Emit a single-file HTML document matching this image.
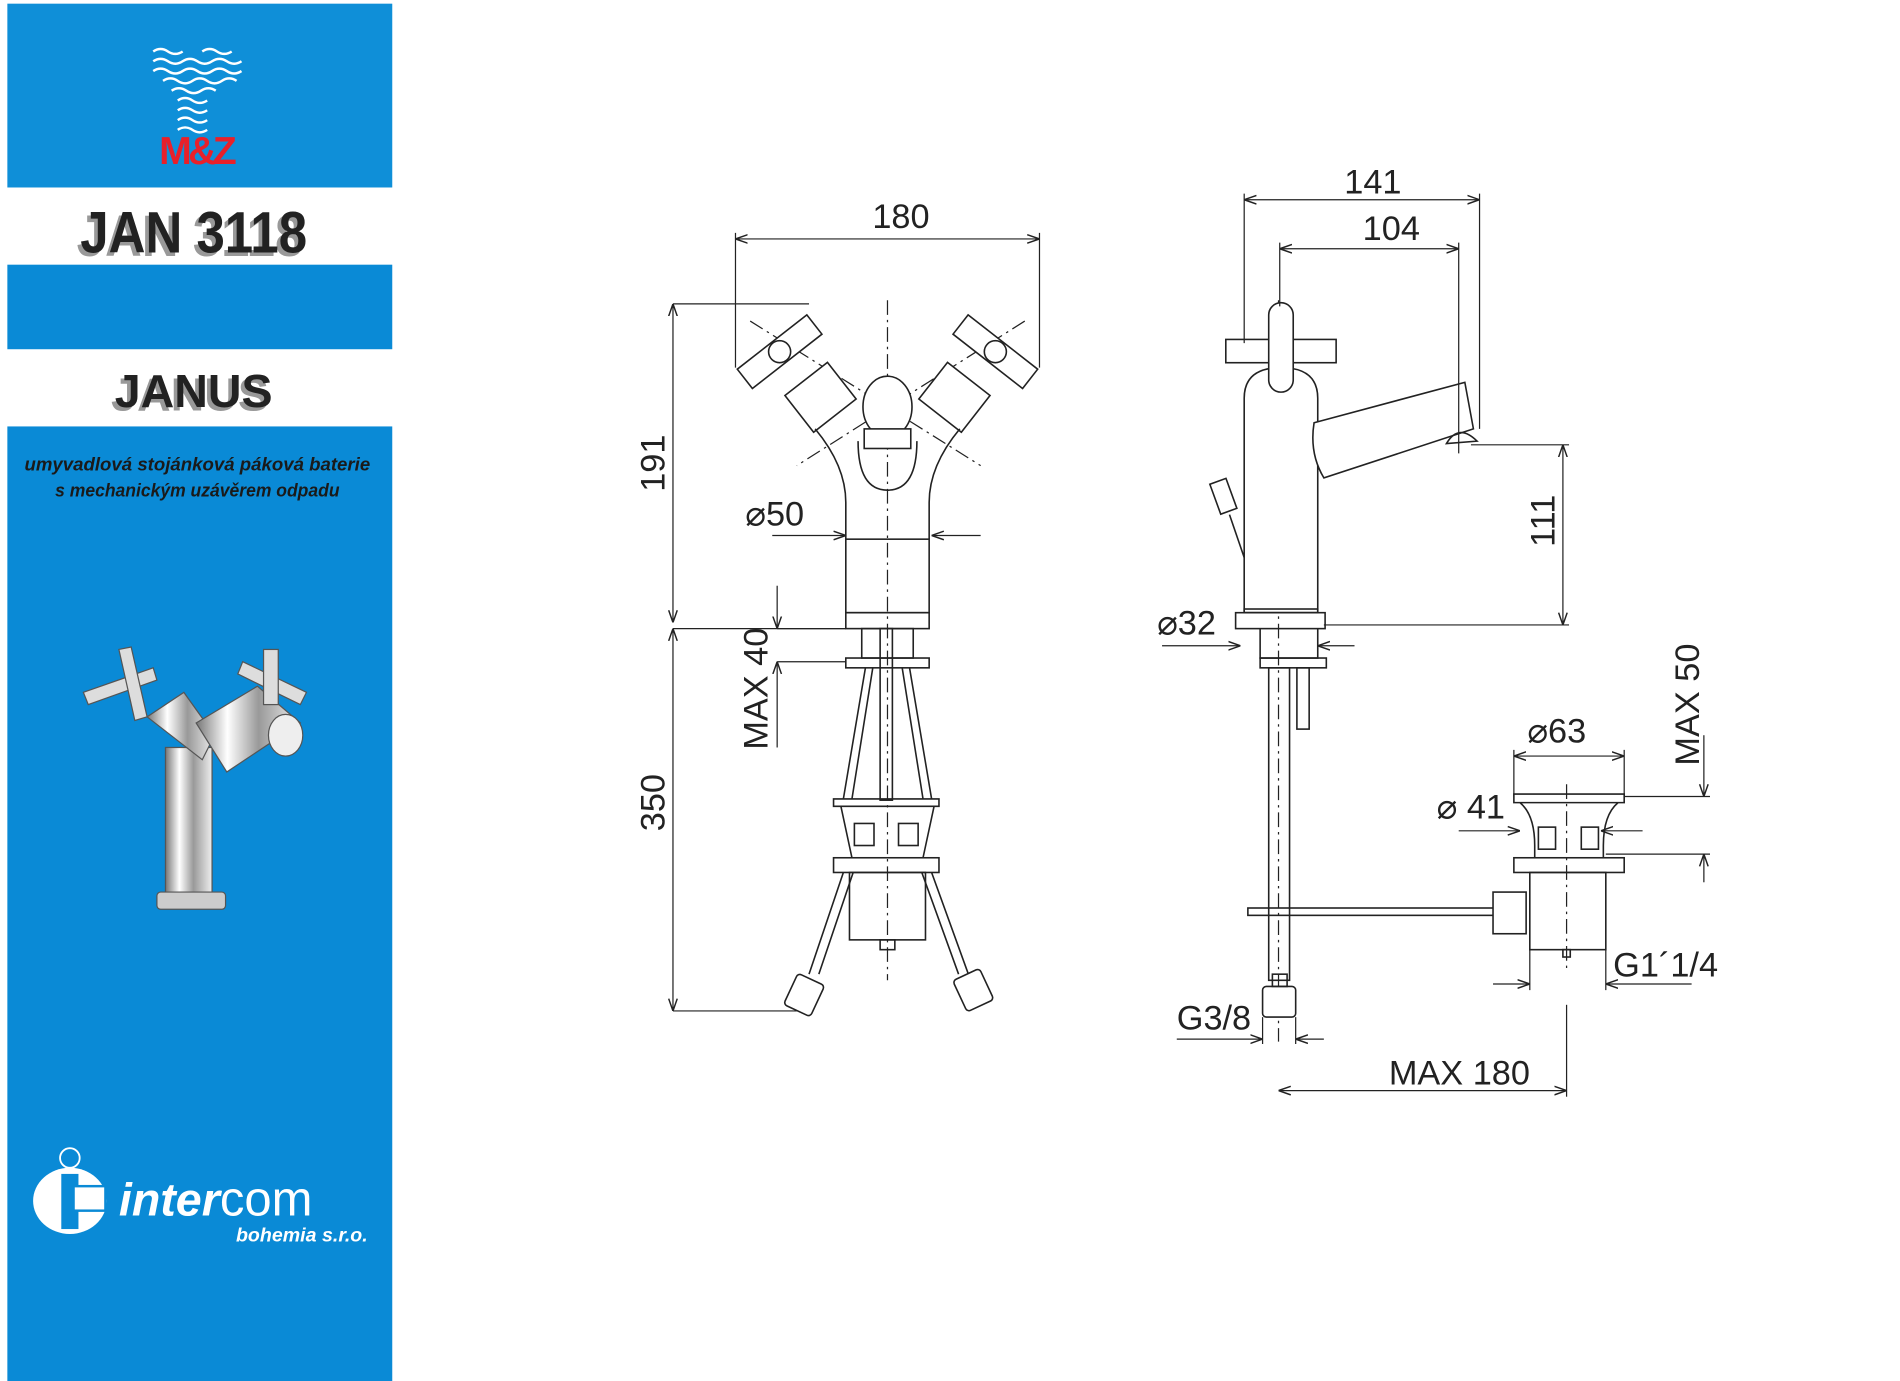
<!DOCTYPE html>
<html><head><meta charset="utf-8"><style>
html,body{margin:0;padding:0;background:#fff;}
svg{display:block;}
text{font-family:"Liberation Sans",Arial,sans-serif;}
</style></head><body>
<svg width="1900" height="1381" viewBox="0 0 1550 1127" preserveAspectRatio="none" xmlns="http://www.w3.org/2000/svg">
<defs>
<marker id="a" viewBox="0 0 10 10" refX="10" refY="5" markerWidth="10" markerHeight="10" orient="auto-start-reverse" markerUnits="userSpaceOnUse"><path d="M0,1.5 L10,5 L0,8.5" fill="none" stroke="#222" stroke-width="1.2"/></marker>
<linearGradient id="chr" x1="0" x2="1"><stop offset="0" stop-color="#777"/><stop offset=".3" stop-color="#fff"/><stop offset=".6" stop-color="#999"/><stop offset="1" stop-color="#eee"/></linearGradient>
</defs>
<!-- sidebar -->
<rect x="6" y="3" width="314" height="150" fill="#0f8fd8"/>
<rect x="6" y="216" width="314" height="69" fill="#0a8ad6"/>
<rect x="6" y="348" width="314" height="779" fill="#0a8ad6"/>
<g stroke="#fff" stroke-width="2" fill="none">
<path d="M125,42 q6,-4 12,0 t12,0 M165,42 q6,-4 12,0 t12,0 M125,50 q6,-4 12,0 t12,0 t12,0 t12,0 t12,0 t12,0 M125,58 q6,-4 12,0 t12,0 t12,0 t12,0 t12,0 t12,0 M133,66 q6,-4 12,0 t12,0 t12,0 t12,0 t12,0 M140,74 q6,-4 12,0 t12,0 t12,0 M145,82 q6,-4 12,0 t12,0 M145,90 q6,-4 12,0 t12,0 M145,98 q6,-4 12,0 t12,0 M145,106 q6,-4 12,0 t12,0"/>
</g>
<text x="160" y="134" text-anchor="middle" font-size="32" font-weight="bold" fill="#e8202a" letter-spacing="-3">M&amp;Z</text>
<text x="158" y="206" text-anchor="middle" font-size="48" font-weight="bold" fill="#999" transform="translate(-3,3) scale(1,1)" textLength="185" lengthAdjust="spacingAndGlyphs">JAN 3118</text>
<text x="158" y="206" text-anchor="middle" font-size="48" font-weight="bold" fill="#222" textLength="185" lengthAdjust="spacingAndGlyphs">JAN 3118</text>
<text x="158" y="332" text-anchor="middle" font-size="38" font-weight="bold" fill="#999" transform="translate(-3,3)">JANUS</text>
<text x="158" y="332" text-anchor="middle" font-size="38" font-weight="bold" fill="#222">JANUS</text>
<text x="161" y="384" text-anchor="middle" font-size="15" font-weight="bold" font-style="italic" fill="#1a1a1a" textLength="282" lengthAdjust="spacingAndGlyphs">umyvadlová stojánková páková baterie</text>
<text x="161" y="405" text-anchor="middle" font-size="15" font-weight="bold" font-style="italic" fill="#1a1a1a" textLength="232" lengthAdjust="spacingAndGlyphs">s mechanickým uzávěrem odpadu</text>
<!-- photo faucet -->
<g stroke="#555" stroke-width="1">
<rect x="135" y="610" width="38" height="125" fill="url(#chr)"/>
<rect x="128" y="728" width="56" height="14" rx="3" fill="#ccc"/>
<path d="M120,585 L150,565 L175,600 L165,620 Z" fill="url(#chr)"/>
<path d="M160,590 L210,560 L245,590 L185,630 Z" fill="url(#chr)"/>
<ellipse cx="233" cy="600" rx="14" ry="17" fill="#eee"/>
<path d="M68,565 L125,545 L128,555 L72,575 Z" fill="#ddd"/>
<path d="M97,530 L107,528 L120,585 L110,588 Z" fill="#ddd"/>
<path d="M198,540 L250,565 L245,575 L194,550 Z" fill="#ddd"/>
<rect x="215" y="530" width="12" height="45" fill="#ddd"/>
</g>
<!-- intercom -->
<circle cx="57" cy="945" r="8" fill="none" stroke="#fff" stroke-width="1.5"/>
<ellipse cx="57" cy="980" rx="30" ry="27" fill="#fff"/>
<rect x="50" y="958" width="14" height="45" fill="#0a8ad6"/>
<rect x="60" y="968" width="26" height="20" fill="#fff" stroke="#0a8ad6" stroke-width="2"/>
<text x="97" y="992" font-size="38" font-weight="bold" font-style="italic" fill="#fff">inter<tspan font-weight="normal" font-style="normal" font-size="40">com</tspan></text>
<text x="300" y="1013" text-anchor="end" font-size="16" font-weight="bold" font-style="italic" fill="#fff">bohemia s.r.o.</text>

<!-- LEFT VIEW -->
<g fill="none" stroke="#222" stroke-width="1.3">
<path d="M724,245 V800" stroke-dasharray="12,4,2,4" stroke-width="1"/>
<path d="M612,262 L800,380 M836,262 L650,380" stroke-dasharray="12,4,2,4" stroke-width="1"/>
<g transform="rotate(-38 636 287)"><rect x="600" y="277" width="72" height="20" fill="#fff"/></g>
<g transform="rotate(38 812 287)"><rect x="776" y="277" width="72" height="20" fill="#fff"/></g>
<circle cx="636" cy="287" r="9" fill="#fff"/><circle cx="812" cy="287" r="9" fill="#fff"/>
<g transform="rotate(-38 670 325)"><rect x="648" y="305" width="44" height="38" fill="#fff"/></g>
<g transform="rotate(38 778 325)"><rect x="756" y="305" width="44" height="38" fill="#fff"/></g>
<path d="M690,440 V410 Q690,380 665,350 M758,440 V410 Q758,380 783,350" />
<path d="M700,360 Q700,400 724,400 Q748,400 748,360"/>
<ellipse cx="724" cy="332" rx="20" ry="25" fill="#fff"/>
<rect x="705" y="350" width="38" height="16" fill="#fff"/>
<rect x="690" y="440" width="68" height="60"/>
<rect x="690" y="500" width="68" height="13"/>
<rect x="703" y="513" width="42" height="24"/>
<rect x="690" y="537" width="68" height="8"/>
<rect x="718" y="513" width="10" height="140"/>
<path d="M712,545 L695,652 M736,545 L753,652 M706,545 L688,652 M742,545 L760,652"/>
<path d="M680,652 H766 V658 H680 Z M686,658 L695,700 H753 L762,658"/>
<rect x="697" y="672" width="16" height="18"/><rect x="733" y="672" width="16" height="18"/>
<rect x="680" y="700" width="86" height="12"/>
<rect x="693" y="712" width="62" height="55"/>
<rect x="718" y="767" width="12" height="8"/>
<path d="M688,712 L660,795 M696,712 L668,795 M760,712 L790,795 M752,712 L782,795"/>
<g transform="rotate(25 656 812)"><rect x="644" y="798" width="24" height="28" rx="3" fill="#fff"/></g>
<g transform="rotate(-25 794 808)"><rect x="782" y="794" width="24" height="28" rx="3" fill="#fff"/></g>
<g stroke-width="1">
<path d="M600,195 H848" marker-start="url(#a)" marker-end="url(#a)"/>
<path d="M600,190 V300 M848,190 V300"/>
<path d="M549,248 V508" marker-start="url(#a)" marker-end="url(#a)"/>
<path d="M549,513 V825" marker-start="url(#a)" marker-end="url(#a)"/>
<path d="M549,248 H660 M549,513 H690 M549,825 H650"/>
<path d="M630,437 H690" marker-end="url(#a)"/>
<path d="M800,437 H760" marker-end="url(#a)"/>
<path d="M634,478 V513" marker-end="url(#a)"/>
<path d="M634,610 V540" marker-end="url(#a)"/>
<path d="M634,540 H690 M634,513 H690"/>
</g>
</g>
<g font-size="28" fill="#222">
<text x="735" y="186" text-anchor="middle">180</text>
<text transform="translate(542,378) rotate(-90)" text-anchor="middle">191</text>
<text transform="translate(542,655) rotate(-90)" text-anchor="middle">350</text>
<text x="608" y="429">⌀50</text>
<text transform="translate(626,562) rotate(-90)" text-anchor="middle">MAX 40</text>
</g>

<!-- RIGHT VIEW -->
<g fill="none" stroke="#222" stroke-width="1.3">
<path d="M1043,245 V850" stroke-dasharray="12,4,2,4" stroke-width="1"/>
<path d="M1045,375 L1200,340" stroke-dasharray="12,4,2,4" stroke-width="1"/>
<path d="M1278,640 V790" stroke-dasharray="12,4,2,4" stroke-width="1"/>
<path d="M1015,500 V325 Q1015,300 1045,300 Q1075,300 1075,325 V500 Z" fill="#fff"/>
<path d="M1072,345 L1195,312 L1202,350 L1080,390 Q1068,370 1072,345 Z" fill="#fff"/>
<path d="M1180,362 Q1190,345 1205,360 Z"/>
<rect x="1000" y="277" width="90" height="19" fill="#fff"/>
<rect x="1035" y="247" width="20" height="73" rx="10" fill="#fff"/>
<path d="M1003,420 L1015,455"/>
<g transform="rotate(-20 998 405)"><rect x="991" y="392" width="14" height="26" fill="#fff"/></g>
<rect x="1015" y="497" width="60" height="3"/>
<rect x="1008" y="500" width="73" height="13"/>
<path d="M1028,513 V537 H1075 V513"/>
<rect x="1028" y="537" width="54" height="8"/>
<rect x="1035" y="545" width="17" height="255"/>
<rect x="1058" y="545" width="10" height="50"/>
<rect x="1030" y="805" width="27" height="25" rx="3" fill="#fff"/>
<rect x="1038" y="795" width="12" height="10"/>
<rect x="1018" y="741" width="204" height="6"/>
<rect x="1218" y="728" width="27" height="34" fill="#fff"/>
<path d="M1235,648 H1325 V655 H1235 Z M1240,655 Q1252,665 1252,690 V700 H1308 V690 Q1308,665 1320,655"/>
<rect x="1255" y="675" width="14" height="18"/><rect x="1290" y="675" width="14" height="18"/>
<rect x="1235" y="700" width="90" height="12"/>
<rect x="1248" y="712" width="62" height="63"/>
<rect x="1275" y="775" width="6" height="6"/>
<g stroke-width="1">
<path d="M1015,163 H1207" marker-start="url(#a)" marker-end="url(#a)"/>
<path d="M1044,203 H1190" marker-start="url(#a)" marker-end="url(#a)"/>
<path d="M1015,158 V280 M1207,158 V350 M1044,198 V250 M1190,198 V370"/>
<path d="M1275,363 V510" marker-start="url(#a)" marker-end="url(#a)"/>
<path d="M1200,363 H1280 M1080,510 H1280"/>
<path d="M948,527 H1012" marker-end="url(#a)"/>
<path d="M1105,527 H1075" marker-end="url(#a)"/>
<path d="M1235,617 H1325" marker-start="url(#a)" marker-end="url(#a)"/>
<path d="M1235,612 V650 M1325,612 V650"/>
<path d="M1190,678 H1240" marker-end="url(#a)"/>
<path d="M1340,678 H1306" marker-end="url(#a)"/>
<path d="M1390,600 V650" marker-end="url(#a)"/>
<path d="M1390,720 V697" marker-end="url(#a)"/>
<path d="M1325,650 H1395 M1310,697 H1395"/>
<path d="M1218,803 H1248" marker-end="url(#a)"/>
<path d="M1380,803 H1310" marker-end="url(#a)"/>
<path d="M1248,775 V808 M1310,775 V808"/>
<path d="M960,848 H1030" marker-end="url(#a)"/>
<path d="M1080,848 H1057" marker-end="url(#a)"/>
<path d="M1030,830 V852 M1057,830 V852"/>
<path d="M1043,890 H1278" marker-start="url(#a)" marker-end="url(#a)"/>
<path d="M1278,820 V895"/>
</g>
</g>
<g font-size="28" fill="#222">
<text x="1120" y="158" text-anchor="middle">141</text>
<text x="1135" y="196" text-anchor="middle">104</text>
<text transform="translate(1268,425) rotate(-90)" text-anchor="middle">111</text>
<text x="944" y="518">⌀32</text>
<text x="1246" y="606">⌀63</text>
<text x="1172" y="668">⌀ 41</text>
<text transform="translate(1386,575) rotate(-90)" text-anchor="middle">MAX 50</text>
<text x="1316" y="797">G1´1/4</text>
<text x="960" y="840">G3/8</text>
<text x="1133" y="885">MAX 180</text>
</g>
</svg>
</body></html>
